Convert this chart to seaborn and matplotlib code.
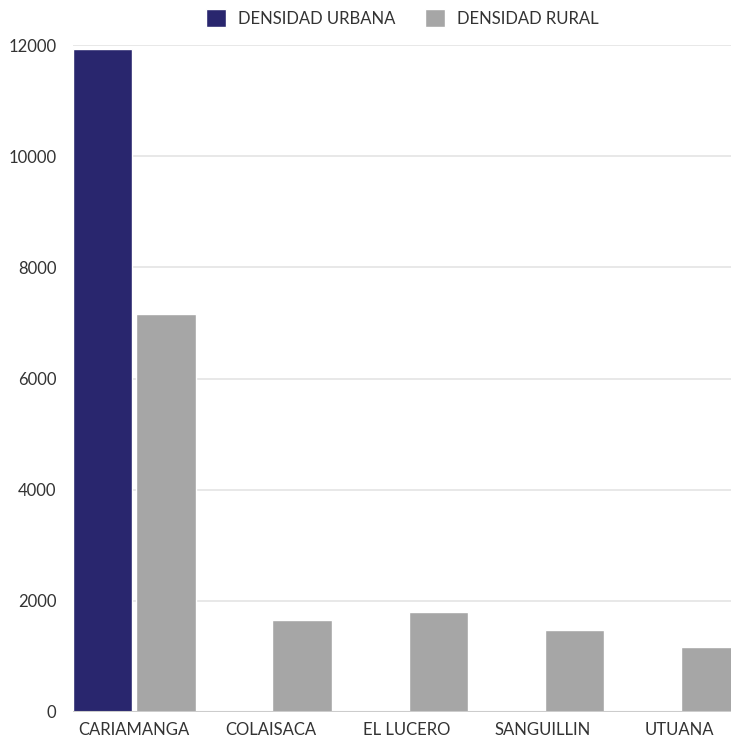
import seaborn as sns
import matplotlib.pyplot as plt
import pandas as pd

sectores = ['CARIAMANGA', 'COLAISACA', 'EL LUCERO', 'SANGUILLIN', 'UTUANA']
densidad_urbana = [11930, 0, 0, 0, 0]
densidad_rural = [7160, 1650, 1800, 1475, 1170]
series = ['DENSIDAD URBANA', 'DENSIDAD RURAL']
yticks = [0, 2000, 4000, 6000, 8000, 10000, 12000]

df = pd.DataFrame({
    'sector': sectores * 2,
    'densidad': densidad_urbana + densidad_rural,
    'tipo': [series[0]] * len(sectores) + [series[1]] * len(sectores),
})

sns.set_style('white')
plt.rcParams['font.family'] = ['Lato', 'DejaVu Sans']

fig = plt.figure(figsize=(7.31, 7.37), dpi=100)
ax = fig.add_axes([73 / 731, 25 / 737, 1 - 73 / 731, 667 / 737])

sns.barplot(data=df, x='sector', y='densidad', hue='tipo',
            palette=['#29266e', '#a6a6a6'], width=0.93, gap=0.06,
            saturation=1, ax=ax, zorder=3)

ax.set_ylim(0, 12000)
ax.set_xlim(-0.448, 4.38)
ax.set_yticks(yticks)
ax.set_yticklabels([str(t) for t in yticks])
ax.grid(axis='y', color='#e6e6e6', linewidth=1.3, zorder=0)
ax.axhline(0, color='#cccccc', linewidth=1.5, zorder=4)
for s in ax.spines.values():
    s.set_visible(False)
ax.tick_params(axis='both', length=0, labelsize=12, colors='#333333')
ax.tick_params(axis='y', pad=12)
ax.tick_params(axis='x', pad=7)
ax.set_xlabel('')
ax.set_ylabel('')

handles, labels = ax.get_legend_handles_labels()
ax.legend_.remove()
fig.legend(handles, labels, loc='center', bbox_to_anchor=(402.5 / 731, 1 - 18 / 737),
           ncol=2, frameon=False, fontsize=12, handlelength=1.2, handleheight=1.2,
           handletextpad=0.7, columnspacing=1.8, labelcolor='#333333')

plt.savefig('out.png', dpi=100)
